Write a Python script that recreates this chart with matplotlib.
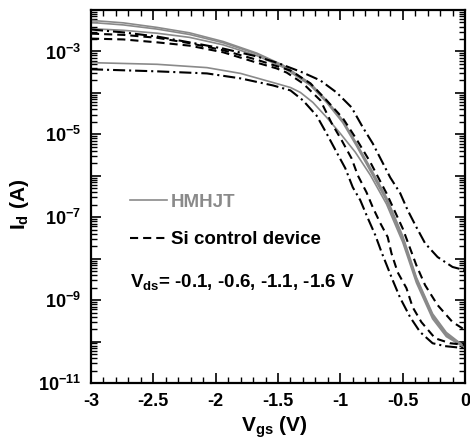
import numpy as np
import matplotlib.pyplot as plt
from matplotlib.ticker import FixedLocator, MultipleLocator, NullFormatter, FuncFormatter

plt.rcParams['font.family'] = 'Liberation Sans'
plt.rcParams['font.weight'] = 'bold'
plt.rcParams['axes.labelweight'] = 'bold'
plt.rcParams['mathtext.fontset'] = 'custom'
plt.rcParams['mathtext.rm'] = 'Liberation Sans:bold'
plt.rcParams['mathtext.it'] = 'Liberation Sans:bold'
plt.rcParams['mathtext.bf'] = 'Liberation Sans:bold'

# HMHJT curves (log10 of Id)
hm_vgs = [-3.0, -2.74, -2.47, -2.21, -1.94, -1.67, -1.46, -1.24, -1.11, -0.98,
          -0.87, -0.76, -0.63, -0.50, -0.39, -0.26, -0.15, 0.0]
hm_log_16 = [-2.25, -2.31, -2.42, -2.55, -2.76, -3.04, -3.33, -3.77, -4.18, -4.66,
             -5.22, -5.80, -6.52, -7.45, -8.45, -9.33, -9.78, -10.13]
hm_log_11 = [-2.30, -2.36, -2.46, -2.59, -2.79, -3.06, -3.35, -3.79, -4.20, -4.69,
             -5.25, -5.84, -6.56, -7.49, -8.48, -9.36, -9.82, -10.13]
hm_log_06 = [-2.45, -2.49, -2.56, -2.66, -2.84, -3.10, -3.38, -3.82, -4.23, -4.72,
             -5.28, -5.88, -6.60, -7.53, -8.52, -9.40, -9.85, -10.15]
hm_vgs_01 = [-3.0, -2.47, -2.07, -1.80, -1.54, -1.40, -1.32, -1.22, -1.11, -1.00,
             -0.88, -0.76, -0.63, -0.50, -0.39, -0.26, -0.15, 0.0]
hm_log_01 = [-3.27, -3.31, -3.39, -3.53, -3.75, -3.87, -3.99, -4.23, -4.59, -4.98,
             -5.43, -5.98, -6.68, -7.60, -8.58, -9.45, -9.88, -10.15]

# Si control device curves
si_vgs_16 = [-3.0, -2.74, -2.47, -2.21, -1.94, -1.67, -1.50, -1.30, -1.16, -1.03,
             -0.91, -0.82, -0.74, -0.67, -0.60, -0.52, -0.46, -0.39, -0.32, -0.22,
             -0.10, 0.0]
si_log_16 = [-2.47, -2.54, -2.64, -2.78, -2.93, -3.12, -3.28, -3.51, -3.70, -3.99,
             -4.35, -4.83, -5.22, -5.63, -6.04, -6.42, -6.83, -7.24, -7.63, -7.96,
             -8.20, -8.28]
si_vgs_11 = [-3.0, -2.74, -2.47, -2.21, -1.94, -1.67, -1.40, -1.24, -1.11, -0.98,
             -0.87, -0.76, -0.63, -0.50, -0.39, -0.32, -0.22, -0.10, 0.0]
si_log_11 = [-2.57, -2.60, -2.67, -2.80, -2.97, -3.20, -3.46, -3.77, -4.18, -4.61,
             -5.12, -5.67, -6.42, -7.27, -8.16, -8.64, -9.12, -9.53, -9.72]
si_vgs_06 = [-3.0, -2.74, -2.47, -2.21, -1.94, -1.67, -1.51, -1.43, -1.30, -1.16,
             -1.07, -0.99, -0.91, -0.86, -0.79, -0.74, -0.68, -0.62, -0.59, -0.54,
             -0.47, -0.42, -0.35, -0.24, -0.12, 0.0]
si_log_06 = [-2.69, -2.71, -2.78, -2.86, -3.02, -3.27, -3.41, -3.51, -3.77, -4.18,
             -4.73, -5.14, -5.58, -5.99, -6.40, -6.76, -7.14, -7.48, -7.87, -8.33,
             -8.71, -9.17, -9.53, -9.92, -10.04, -10.08]
si_vgs_01 = [-3.0, -2.47, -2.07, -1.80, -1.54, -1.40, -1.30, -1.19, -1.11, -1.03,
             -0.96, -0.90, -0.84, -0.78, -0.72, -0.67, -0.58, -0.52, -0.44, -0.36,
             -0.26, -0.16, 0.0]
si_log_01 = [-3.43, -3.48, -3.53, -3.65, -3.82, -3.94, -4.18, -4.55, -4.98, -5.43,
             -5.82, -6.28, -6.59, -7.02, -7.43, -7.84, -8.52, -8.95, -9.41, -9.77,
             -10.04, -10.11, -10.16]

x_ticks = [-3, -2.5, -2, -1.5, -1, -0.5, 0]

gray = '#8a8a8a'
dash = (0, (3.9, 2.4))
dashdot = (0, (5.8, 1.9, 1.0, 1.9))

fig = plt.figure(figsize=(4.7, 4.43), dpi=100)
ax = fig.add_axes([0.1936, 0.1354, 0.7958, 0.842])

for lg in [hm_log_16, hm_log_11, hm_log_06]:
    ax.plot(hm_vgs, 10.0 ** np.array(lg), color=gray, lw=1.2)
ax.plot(hm_vgs_01, 10.0 ** np.array(hm_log_01), color=gray, lw=1.2, label='HMHJT')

ax.plot(si_vgs_16, 10.0 ** np.array(si_log_16), color='black', lw=1.5, linestyle=dashdot)
ax.plot(si_vgs_11, 10.0 ** np.array(si_log_11), color='black', lw=1.5, linestyle=dash)
ax.plot(si_vgs_06, 10.0 ** np.array(si_log_06), color='black', lw=1.5, linestyle=dash,
        label='Si control device')
ax.plot(si_vgs_01, 10.0 ** np.array(si_log_01), color='black', lw=1.5, linestyle=dashdot)

ax.set_yscale('log')
ax.set_xlim(-3, 0)
ax.set_ylim(1e-11, 1e-2)

# ticks
ax.xaxis.set_major_locator(FixedLocator(x_ticks))
ax.xaxis.set_minor_locator(MultipleLocator(0.1))
ax.xaxis.set_major_formatter(FuncFormatter(lambda v, p: '%g' % v))
ax.yaxis.set_major_locator(FixedLocator([10.0 ** e for e in range(-11, -1)]))
ax.yaxis.set_minor_locator(FixedLocator([m * 10.0 ** e for e in range(-11, -2) for m in range(2, 10)]))
ax.yaxis.set_minor_formatter(NullFormatter())


def ylab(v, p):
    e = int(round(np.log10(v)))
    return r'$10^{%d}$' % e if e % 2 else ''


ax.yaxis.set_major_formatter(FuncFormatter(ylab))
ax.tick_params(which='both', direction='in', top=True, right=True)
ax.tick_params(which='major', length=7, width=1.2, labelsize=13, pad=7)
ax.tick_params(which='minor', length=4, width=1.0)
for s in ax.spines.values():
    s.set_linewidth(1.6)

ax.set_xlabel(r'$\mathrm{V_{gs}}$ (V)', fontsize=15)
ax.set_ylabel(r'$\mathrm{I_d}$ (A)', fontsize=15)
ax.xaxis.set_label_coords(0.49, -0.085)
ax.yaxis.set_label_coords(-0.16, 0.48)

leg = ax.legend(loc='upper left', bbox_to_anchor=(0.104, 0.508), frameon=False,
                fontsize=13.5, handlelength=2.0, handletextpad=0.2, borderpad=0,
                borderaxespad=0, labelspacing=1.1)
leg.get_texts()[0].set_color(gray)

ax.text(0.104, 0.27, r'$\mathrm{V_{ds}}$= -0.1, -0.6, -1.1, -1.6 V', transform=ax.transAxes,
        fontsize=13.5, va='center', ha='left')

plt.savefig('out.png', dpi=100)
